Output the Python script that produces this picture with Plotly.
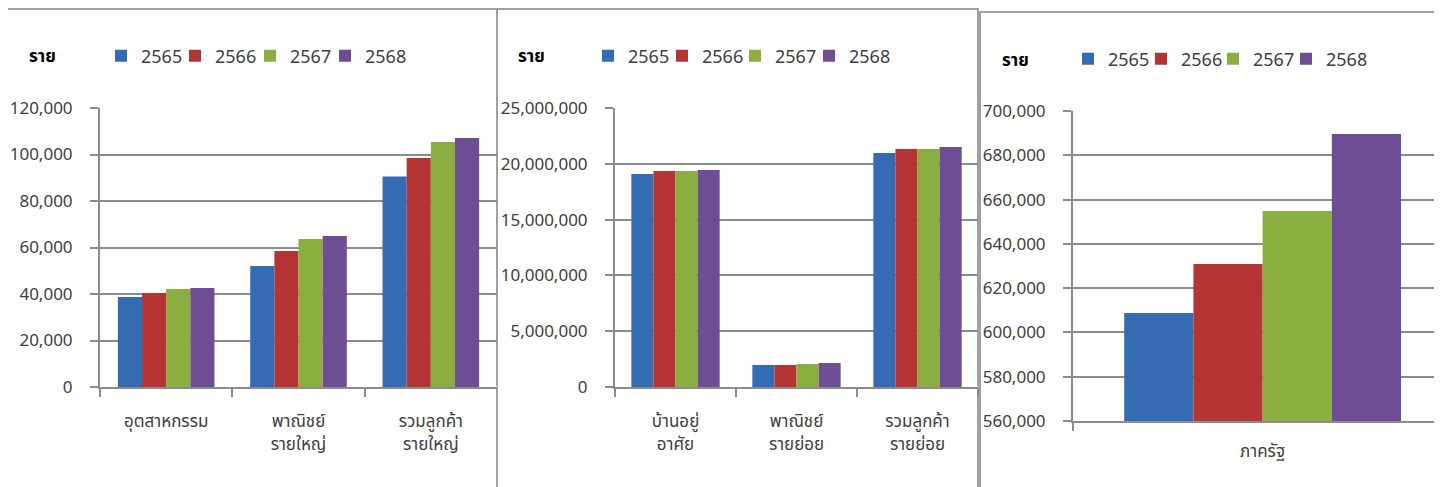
import plotly.graph_objects as go

years = ["2565", "2566", "2567", "2568"]
colors = ["#356bb2", "#b53535", "#8aae40", "#6d4d94"]

cats1 = ["อุตสาหกรรม", "พาณิชย์<br>รายใหญ่", "รวมลูกค้า<br>รายใหญ่"]
vals1 = {
    "2565": [38700, 52000, 90500],
    "2566": [40400, 58500, 98500],
    "2567": [42100, 63700, 105400],
    "2568": [42600, 65000, 107100],
}

cats2 = ["บ้านอยู่<br>อาศัย", "พาณิชย์<br>รายย่อย", "รวมลูกค้า<br>รายย่อย"]
vals2 = {
    "2565": [19090000, 1970000, 20970000],
    "2566": [19350000, 1970000, 21330000],
    "2567": [19350000, 2060000, 21330000],
    "2568": [19440000, 2150000, 21500000],
}

cats3 = ["ภาครัฐ"]
vals3 = {
    "2565": [608800],
    "2566": [630900],
    "2567": [654800],
    "2568": [689600],
}

unit_label = "ราย"

# page body has an 8px margin: the figure starts at (8, 8) in the window
OFF = 8
W, H = 1442 - OFF, 487 - OFF
FONT = "Tahoma, 'Noto Sans', 'Noto Sans Thai', sans-serif"
TXT = "#404040"
GRID = "#8c8c8c"


def px_x(p):
    return (p - OFF) / W


def px_y(p):
    return 1 - (p - OFF) / H


fig = go.Figure()

# legend square positions (window px) for each panel
legend_sq_x = [[114, 188, 263, 338], [601, 675, 748, 822], [1081, 1154, 1226, 1299]]
legend_y = [56, 56, 59]

panels = [
    (cats1, vals1, "x", "y"),
    (cats2, vals2, "x2", "y2"),
    (cats3, vals3, "x3", "y3"),
]
legend_layout = {}
n = 0
for pi, (cats, vals, xa, ya) in enumerate(panels):
    for k, (yr, c) in enumerate(zip(years, colors)):
        n += 1
        lname = "legend" if n == 1 else f"legend{n}"
        fig.add_trace(go.Bar(
            x=cats, y=vals[yr], name=yr, xaxis=xa, yaxis=ya, legend=lname,
            showlegend=True,
            marker=dict(color=c, line=dict(width=0)),
        ))
        legend_layout[lname] = dict(
            x=px_x(legend_sq_x[pi][k] - 13), y=px_y(legend_y[pi]),
            xanchor="left", yanchor="middle", orientation="h",
            font=dict(family=FONT, size=18, color=TXT),
            bgcolor="rgba(0,0,0,0)", itemwidth=30, visible=True,
        )

axis_common = dict(
    showline=True, linecolor=GRID, linewidth=2,
    ticks="outside", tickcolor=GRID, ticklen=8, tickwidth=1.5,
    tickfont=dict(family=FONT, size=17, color=TXT),
)
yaxis_common = dict(tickformat=",d", showgrid=True, gridcolor=GRID, gridwidth=1.5,
                    ticklabelstandoff=14, **axis_common)

fig.update_layout(
    width=W, height=H,
    showlegend=True,
    margin=dict(l=0, r=0, t=0, b=0, autoexpand=False),
    paper_bgcolor="white", plot_bgcolor="white",
    barmode="group", bargap=0.27, bargroupgap=0,
    font=dict(family=FONT, size=17, color=TXT),
    xaxis=dict(domain=[px_x(100), px_x(497)], anchor="y", tickson="boundaries",
               ticklabelstandoff=18, **axis_common),
    yaxis=dict(domain=[px_y(387), px_y(108)], anchor="x", range=[0, 120000], dtick=20000,
               **yaxis_common),
    xaxis2=dict(domain=[px_x(615), px_x(978)], anchor="y2", tickson="boundaries",
                ticklabelstandoff=18, **axis_common),
    yaxis2=dict(domain=[px_y(387), px_y(108)], anchor="x2", range=[0, 25000000], dtick=5000000,
                **yaxis_common),
    xaxis3=dict(domain=[px_x(1073), 1.0], anchor="y3", tickson="boundaries",
                range=[-0.5, 0.473], ticklabelstandoff=14, **axis_common),
    yaxis3=dict(domain=[px_y(421), px_y(111)], anchor="x3", range=[560000, 700000], dtick=20000,
                **yaxis_common),
    **legend_layout,
)

for xpx, ypx in [(27, 56), (516, 56), (1000, 59)]:
    fig.add_annotation(text="<b>" + unit_label + "</b>", xref="paper", yref="paper",
                       x=px_x(xpx), y=px_y(ypx), xanchor="left", yanchor="middle",
                       showarrow=False, font=dict(family=FONT, size=17, color="#000000"))

for x0, x1, y0 in [(7, 497, 9), (497, 978, 9), (980, 1460, 12)]:
    fig.add_shape(type="rect", xref="paper", yref="paper",
                  x0=px_x(x0), x1=px_x(x1), y0=-0.1, y1=px_y(y0),
                  line=dict(color="#a0a0a0", width=2), fillcolor="rgba(0,0,0,0)", layer="below")

fig.write_html("out.html")
